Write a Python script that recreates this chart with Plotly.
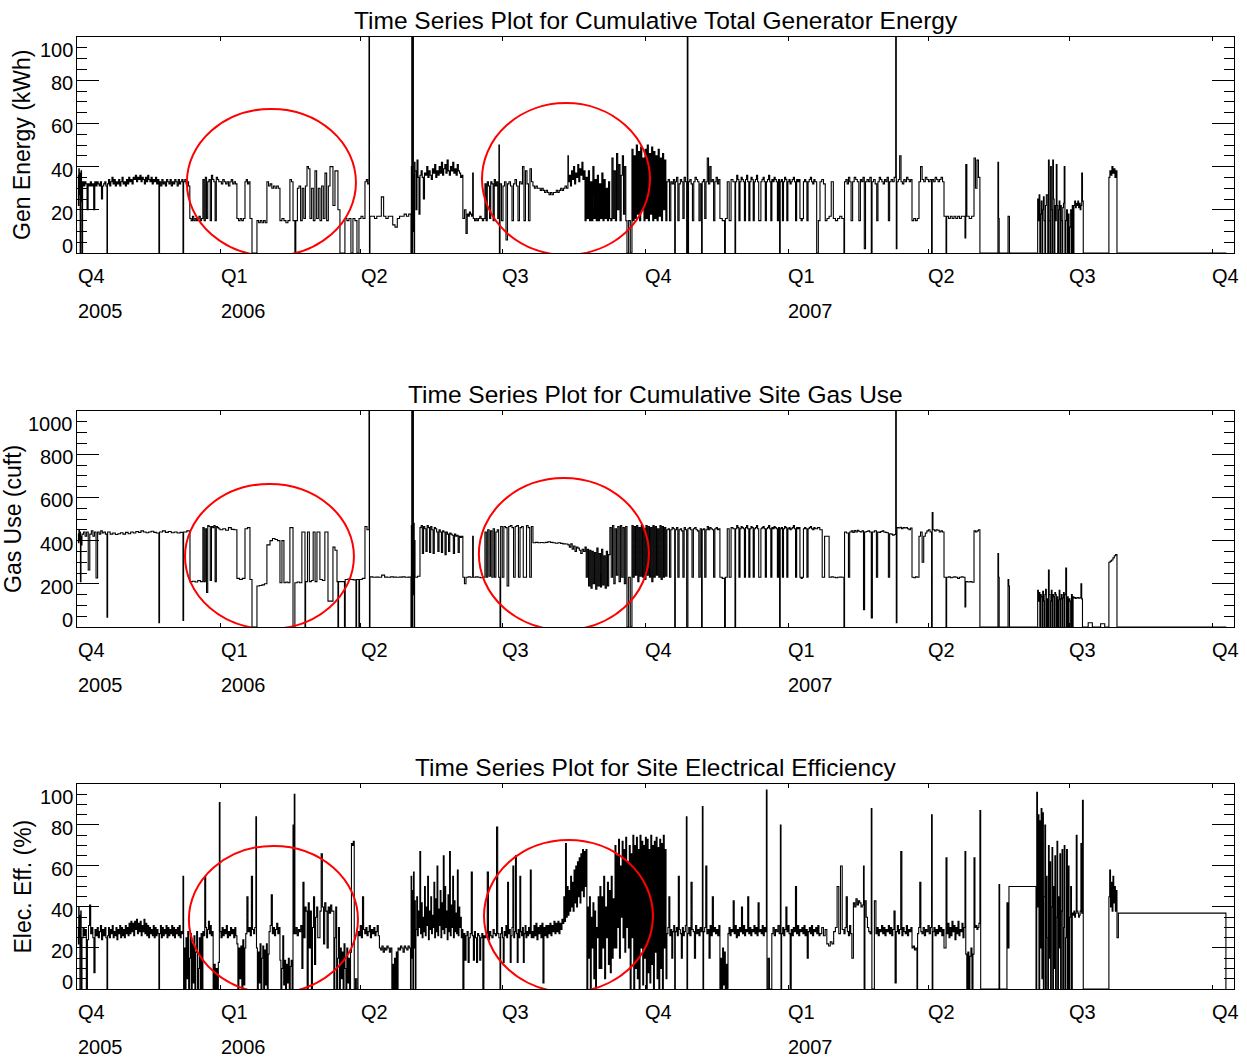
import numpy as np
import pandas as pd
import plotly.graph_objects as go

# ---------------- data (days since 2005-10-01, value) ----------------
START = "2005-10-01"

QUARTER_TICKS = ["2005-10-01", "2006-01-01", "2006-04-01", "2006-07-01", "2006-10-01",
                 "2007-01-01", "2007-04-01", "2007-07-01", "2007-10-01"]
QUARTER_LABELS = ["Q4", "Q1", "Q2", "Q3", "Q4", "Q1", "Q2", "Q3", "Q4"]
YEAR_LABELS = {"2005-10-01": "2005", "2006-01-01": "2006", "2007-01-01": "2007"}

TITLES = ["Time Series Plot for Cumulative Total Generator Energy",
          "Time Series Plot for Cumulative Site Gas Use",
          "Time Series Plot for Site Electrical Efficiency"]
Y_TITLES = ["Gen Energy (kWh)", "Gas Use (cuft)", "Elec. Eff. (%)"]
Y_TICKS = [[0, 20, 40, 60, 80, 100], [0, 200, 400, 600, 800, 1000], [0, 20, 40, 60, 80, 100]]
Y_RANGES = [[0, 100], [0, 1000], [0, 100]]
Y_MINOR = [5, 50, 5]

# runs: (start_day, end_day, values spread over the run)
GEN_RUNS = [
    (0.0, 2.6, [36, 22, 39, 27, 37, 0, 31, 38, 24]),
    (2.6, 3.0, [0]),
    (3.0, 18.7, [33, 31, 33, 32, 20, 32, 31, 33, 31, 32, 20, 33, 31, 33, 32, 31, 33, 25, 31, 32, 33, 31]),
    (18.7, 19.0, [0]),
    (19.0, 52.1, [32, 34, 31, 33, 35, 32, 34, 31, 33, 32, 34, 31, 33, 35, 32, 33, 31, 34, 32, 35, 33, 34, 32,
                  35, 34, 36, 33, 35, 34, 36, 33, 35, 34, 32, 35, 33, 36, 34, 33, 35, 32, 34, 33, 35, 32, 34]),
    (52.1, 52.5, [0]),
    (52.5, 67.6, [33, 31, 34, 32, 33, 31, 34, 33, 32, 34, 31, 33, 32, 34, 33, 31, 34, 32, 33, 34]),
    (67.6, 68.0, [0]),
    (68.0, 72.0, [33, 34, 32, 33, 31]),
    (72.0, 80.4, [16, 15, 17, 15, 16, 15, 16, 17, 15, 16]),
    (80.4, 91.4, [34, 15, 35, 16, 33, 34, 15, 36, 34, 33, 15, 35, 34, 33]),
    (91.4, 102.3, [33, 32, 34, 33, 32, 33, 31, 33, 34, 32, 33, 32]),
    (102.3, 107.5, [16, 15, 16, 15, 16]),
    (107.5, 110.7, [33, 34, 32, 33]),
    (110.7, 112.0, [16]),
    (112.0, 115.2, [0]),
    (115.2, 121.6, [15, 14, 15, 14, 15, 14]),
    (121.6, 130.0, [33, 31, 32, 30, 31, 30, 31, 30]),
    (130.0, 136.4, [15, 16, 15, 14, 15]),
    (136.4, 138.4, [34, 33]),
    (138.4, 139.6, [15]),
    (139.6, 140.2, [0]),
    (140.2, 147.4, [15, 30, 31, 15, 30, 16, 31]),
    (147.4, 149.3, [40, 39]),
    (149.3, 162.2, [16, 30, 15, 38, 16, 30, 15, 31, 16, 37, 15, 31]),
    (162.2, 164.1, [40]),
    (164.1, 165.4, [22]),
    (165.4, 167.3, [38]),
    (167.3, 168.6, [20]),
    (168.6, 171.8, [0]),
    (171.8, 184.7, [16, 15, 16, 0, 16, 15, 0, 16, 17, 16]),
    (184.7, 187.3, [33, 34, 32]),
    (187.3, 187.6, [120]),
    (187.6, 187.9, [0]),
    (187.9, 214.3, [17, 17, 16, 17, 17, 26, 17, 16, 17, 17, 13, 12, 16, 17, 17, 18, 17, 18]),
    (214.3, 216.9, [0, 40, 120, 0, 38, 120, 10, 36, 0, 42]),
    (216.9, 220.1, [38, 20, 43, 35, 18]),
    (220.1, 247.7, [36, 38, 35, 25, 37, 36, 40, 35, 38, 36, 34, 39, 37, 41, 35, 38, 36, 40, 37, 42, 36, 39,
                    41, 37, 43, 38, 36, 40, 38, 42, 37, 39, 36, 41, 38, 37, 35, 36]),
    (247.7, 249.7, [16, 20]),
    (249.7, 250.5, [9]),
    (250.5, 254.0, [18, 17, 19, 18, 17]),
    (254.0, 254.4, [37]),
    (254.4, 261.9, [16, 15, 16, 15, 16, 17, 16, 15, 16]),
    (261.9, 270.9, [32, 15, 33, 31, 16, 33, 32, 15, 34, 31, 33, 16]),
    (270.9, 271.2, [50]),
    (271.2, 271.6, [0]),
    (271.6, 292.8, [32, 15, 31, 33, 6, 32, 33, 31, 15, 32, 34, 31, 15, 33, 32, 40, 15, 38, 32, 15, 39, 33]),
    (292.8, 315.3, [31, 30, 31, 30, 30, 29, 30, 29, 28, 29, 28, 27, 28, 27, 28, 28, 29, 28, 29, 30, 29, 30,
                    31, 30]),
    (315.3, 315.6, [45]),
    (315.6, 326.3, [33, 36, 31, 38, 34, 40, 32, 37, 35, 41, 33, 39, 36, 42, 34, 38]),
    (326.3, 343.6, [15, 35, 16, 38, 15, 33, 15, 40, 16, 34, 15, 36, 15, 32, 16, 37, 15, 34, 16, 30, 15, 33,
                    16, 15]),
    (343.6, 353.3, [44, 16, 38, 15, 46, 20, 41, 15, 36, 45, 18, 40, 15]),
    (353.3, 356.5, [0, 15, 0]),
    (356.5, 379.0, [48, 15, 45, 16, 50, 18, 47, 15, 49, 20, 44, 15, 48, 16, 50, 15, 46, 18, 49, 15, 47, 16,
                    45, 15, 48, 17, 44, 15, 46, 20, 43, 15]),
    (379.0, 384.0, [33, 34, 15, 33, 32, 34]),
    (384.0, 384.4, [0]),
    (384.4, 391.7, [33, 35, 15, 32, 34, 33, 16, 35, 33]),
    (391.7, 392.1, [0]),
    (392.1, 392.5, [120]),
    (392.5, 392.9, [0]),
    (392.9, 401.3, [33, 34, 32, 15, 33, 35, 34, 33, 15, 32]),
    (401.3, 401.7, [0]),
    (401.7, 413.1, [33, 34, 16, 33, 44, 32, 40, 33, 34, 15, 33, 35, 32, 34]),
    (413.1, 416.1, [16, 15]),
    (416.1, 416.6, [0]),
    (416.6, 421.5, [16, 33, 15, 34]),
    (421.5, 422.8, [33]),
    (422.8, 423.2, [0]),
    (423.2, 451.5, [33, 36, 34, 15, 33, 35, 34, 33, 15, 34, 36, 33, 15, 33, 35, 34, 15, 33, 34, 36, 33, 15,
                    15, 33, 34, 35, 33, 15, 33, 34, 36, 33, 15, 34, 33, 35, 34, 33, 15, 34]),
    (451.5, 451.9, [0]),
    (451.9, 464.6, [33, 34, 15, 33, 35, 34, 15, 33, 34, 32, 33, 34, 35, 33, 15, 34, 33, 34]),
    (464.6, 474.3, [16, 15, 16, 33, 34, 33, 15, 33, 34, 35, 33, 32, 34]),
    (474.3, 477.5, [33, 0, 15]),
    (477.5, 482.0, [33, 34, 32, 15]),
    (482.0, 492.9, [16, 17, 33, 16, 15, 16, 17, 16]),
    (492.9, 493.3, [0]),
    (493.3, 497.5, [33, 34, 32, 35, 33]),
    (497.5, 498.5, [15]),
    (498.5, 502.5, [33, 35, 34, 33]),
    (502.5, 503.5, [15]),
    (503.5, 506.0, [34, 33, 35]),
    (506.0, 506.8, [2]),
    (506.8, 510.5, [33, 34, 33, 35]),
    (510.5, 511.0, [0]),
    (511.0, 514.0, [33, 34, 32]),
    (514.0, 514.8, [15]),
    (514.8, 521.5, [33, 35, 34, 33, 32, 34, 33, 35]),
    (521.5, 522.3, [15]),
    (522.3, 526.2, [33, 34, 33, 35]),
    (526.2, 526.6, [120]),
    (526.6, 527.0, [2]),
    (527.0, 536.7, [33, 34, 45, 33, 32, 34, 33, 35, 34, 33, 34]),
    (536.7, 541.2, [15, 16, 15, 16]),
    (541.2, 549.3, [33, 40, 34, 33, 35, 34, 33, 34]),
    (549.3, 549.7, [0]),
    (549.7, 557.3, [34, 33, 35, 34, 33, 34, 35, 33]),
    (557.3, 558.6, [17]),
    (558.6, 559.0, [0]),
    (559.0, 570.8, [17, 16, 17, 16, 17, 16, 17, 16, 17, 17]),
    (570.8, 571.3, [7]),
    (571.3, 572.0, [41]),
    (572.0, 576.6, [17, 16, 17]),
    (576.6, 580.4, [44, 30, 43, 35]),
    (580.4, 592.0, [0]),
    (592.0, 592.4, [42]),
    (592.4, 592.8, [16]),
    (592.8, 598.5, [0]),
    (598.5, 599.4, [17]),
    (599.4, 617.1, [0]),
    (617.1, 623.6, [0, 25, 15, 27, 0, 18, 24, 0, 20, 26, 15, 0, 22, 27]),
    (623.6, 630.0, [27, 0, 43, 15, 0, 40, 20, 0, 43, 25, 0, 22, 15, 41]),
    (630.0, 635.1, [22, 0, 20, 24, 0, 22, 15, 0, 21, 23, 40]),
    (635.1, 640.9, [0, 15, 20, 0, 18, 0, 12, 20, 0, 22, 0]),
    (640.9, 647.4, [22, 24, 21, 23, 22, 24, 21, 23, 20, 22, 37, 24, 0]),
    (647.4, 663.4, [0]),
    (663.4, 668.6, [35, 38, 36, 40, 37, 39, 35, 38]),
    (668.6, 739.0, [0]),
]

GAS_RUNS = [
    (0.0, 2.6, [430, 390, 450, 400, 440, 210, 420, 380]),
    (2.6, 18.7, [430, 440, 420, 440, 264, 430, 445, 420, 440, 227, 440, 430, 445, 435, 440, 430]),
    (18.7, 19.1, [45]),
    (19.1, 52.1, [440, 430, 435, 428, 432, 436, 430, 438, 432, 440, 435, 442, 438, 445, 440, 436, 440, 443,
                  438, 435]),
    (52.1, 52.5, [20]),
    (52.5, 67.6, [440, 445, 438, 442, 436, 440, 435, 438]),
    (67.6, 68.0, [30]),
    (68.0, 72.1, [440, 445]),
    (72.1, 80.4, [210, 212, 208, 215, 210]),
    (80.4, 91.4, [460, 210, 455, 160, 470, 465, 215, 465, 460, 470, 210, 465, 460, 455]),
    (91.4, 102.3, [450, 455, 448, 460, 452, 450]),
    (102.3, 107.5, [225, 220, 225]),
    (107.5, 110.7, [455, 460]),
    (110.7, 112.0, [220]),
    (112.0, 115.2, [0]),
    (115.2, 121.6, [190, 192, 195, 200]),
    (121.6, 123.6, [380]),
    (123.6, 130.0, [400, 410, 405, 400]),
    (130.0, 136.4, [205, 400, 205, 208, 205]),
    (136.4, 138.4, [460]),
    (138.4, 139.6, [0]),
    (139.6, 144.1, [205, 208, 205]),
    (144.1, 146.1, [440]),
    (146.1, 146.5, [0]),
    (146.5, 153.8, [210, 440, 210, 215, 440, 210]),
    (153.8, 155.7, [440]),
    (155.7, 158.9, [220, 215]),
    (158.9, 160.9, [440]),
    (160.9, 164.1, [120]),
    (164.1, 166.7, [370, 355]),
    (166.7, 167.3, [210]),
    (167.3, 167.7, [0]),
    (167.7, 171.5, [210]),
    (171.5, 172.0, [0]),
    (172.0, 178.9, [220, 222, 220, 218]),
    (178.9, 179.3, [0]),
    (179.3, 180.8, [220]),
    (180.8, 181.2, [0]),
    (181.2, 184.7, [220, 225]),
    (184.7, 187.3, [465, 450]),
    (187.3, 187.6, [1200]),
    (187.6, 187.9, [0]),
    (187.9, 214.3, [232, 230, 231, 230, 240, 231, 230, 232, 231, 230, 231, 232, 230, 231]),
    (214.3, 216.9, [0, 470, 1200, 0, 300, 1200, 150, 480, 0, 400]),
    (216.9, 220.1, [230, 235]),
    (220.1, 247.7, [460, 470, 340, 465, 455, 350, 470, 460, 345, 465, 450, 340, 460, 455, 440, 350, 450, 440,
                    345, 445, 440, 335, 440, 430, 350, 435, 430, 425, 340, 430, 420, 425, 345, 420, 415, 420]),
    (247.7, 249.7, [230, 200]),
    (249.7, 254.0, [230, 232, 230]),
    (254.0, 254.4, [420]),
    (254.4, 261.9, [230, 232, 230, 228, 230]),
    (261.9, 271.6, [440, 230, 450, 235, 445, 230, 455, 230, 440, 450, 230]),
    (271.6, 272.0, [0]),
    (272.0, 292.8, [465, 230, 465, 460, 190, 465, 470, 460, 230, 465, 470, 230, 460, 465, 230, 230, 470, 460,
                    230, 465]),
    (292.8, 315.3, [390, 392, 390, 391, 390, 392, 395, 392, 390, 388, 390, 387, 385, 384]),
    (315.3, 326.3, [380, 370, 385, 360, 375, 350, 370, 365, 355, 340, 360, 350]),
    (326.3, 342.3, [370, 230, 360, 190, 355, 180, 350, 200, 345, 175, 365, 190, 340, 185, 360, 195, 330, 180,
                    350, 190, 335]),
    (342.3, 353.3, [460, 230, 470, 200, 455, 240, 465, 210, 470, 230, 460, 200, 465]),
    (353.3, 356.5, [0, 230, 0]),
    (356.5, 379.0, [470, 230, 465, 240, 470, 210, 460, 235, 470, 230, 455, 220, 470, 240, 465, 230, 460, 210,
                    470, 230, 465, 240, 455, 230, 470, 220, 465, 230, 460, 235]),
    (379.0, 384.0, [450, 455, 230, 450, 460, 455]),
    (384.0, 384.4, [0]),
    (384.4, 391.7, [450, 460, 230, 450, 455, 445, 230, 460, 450]),
    (391.7, 392.5, [0]),
    (392.5, 401.3, [455, 460, 450, 230, 455, 460, 450, 445, 230, 455]),
    (401.3, 401.7, [0]),
    (401.7, 413.1, [450, 455, 230, 450, 465, 450, 460, 455, 450, 230, 455, 460, 450, 455]),
    (413.1, 416.1, [230, 225]),
    (416.1, 416.6, [0]),
    (416.6, 421.5, [230, 455, 230, 460]),
    (421.5, 422.8, [455]),
    (422.8, 423.2, [0]),
    (423.2, 451.5, [455, 470, 460, 230, 455, 465, 460, 455, 230, 460, 470, 455, 230, 455, 465, 460, 230, 455,
                    460, 470, 455, 230, 230, 455, 460, 465, 455, 230, 455, 460, 470, 455, 230, 460, 455, 465,
                    460, 455, 230, 460]),
    (451.5, 451.9, [0]),
    (451.9, 464.6, [455, 460, 230, 455, 465, 460, 230, 455, 460, 450, 455, 460, 470, 455, 230, 460, 455, 460]),
    (464.6, 474.3, [230, 225, 230, 455, 460, 455, 230, 455, 460, 465, 455, 450, 460]),
    (474.3, 482.0, [455, 460, 450, 230, 420]),
    (482.0, 492.9, [420, 230, 232, 230, 228, 230, 231, 230]),
    (492.9, 493.3, [0]),
    (493.3, 495.8, [440, 435]),
    (495.8, 496.6, [230]),
    (496.6, 505.5, [440, 445, 438, 446, 440, 448, 442, 440, 445]),
    (505.5, 506.2, [80]),
    (506.2, 510.5, [440, 442, 445, 440]),
    (510.5, 511.2, [42]),
    (511.2, 513.8, [440, 445]),
    (513.8, 514.6, [230]),
    (514.6, 521.5, [440, 438, 442, 445, 440, 438, 436]),
    (521.5, 522.3, [230]),
    (522.3, 526.2, [432, 430, 425, 428]),
    (526.2, 526.6, [1200]),
    (526.6, 527.0, [20]),
    (527.0, 536.7, [460, 458, 462, 455, 460, 458, 460, 455, 450, 458]),
    (536.7, 541.2, [230, 228, 232, 230]),
    (541.2, 549.3, [420, 440, 300, 420, 435, 445, 450, 440]),
    (549.3, 549.7, [0]),
    (549.7, 550.2, [530]),
    (550.2, 557.3, [450, 445, 450, 448, 440, 445, 440]),
    (557.3, 558.6, [230]),
    (558.6, 559.0, [0]),
    (559.0, 570.8, [230, 232, 228, 230, 232, 230, 225, 230, 232, 230]),
    (570.8, 571.3, [93]),
    (571.3, 576.6, [210, 208, 210, 207]),
    (576.6, 580.4, [445, 440, 445, 450]),
    (580.4, 592.0, [0]),
    (592.0, 592.4, [340]),
    (592.4, 592.8, [230]),
    (592.8, 598.5, [0]),
    (598.5, 599.4, [220, 190]),
    (599.4, 617.1, [0]),
    (617.1, 623.6, [0, 170, 120, 160, 0, 150, 140, 0, 165, 120, 0, 150, 175, 0]),
    (623.6, 630.0, [130, 0, 264, 150, 0, 120, 170, 0, 150, 140, 0, 160, 150, 0]),
    (630.0, 635.1, [140, 0, 125, 170, 0, 130, 150, 0, 135, 160, 0]),
    (635.1, 640.9, [150, 273, 0, 140, 0, 130, 120, 0, 150, 0, 140]),
    (640.9, 647.4, [134, 136, 132, 135, 134, 136, 133, 135, 134, 200, 130, 0, 0]),
    (647.4, 663.4, [0, 20, 0, 0, 15, 0]),
    (663.4, 668.6, [300, 305, 310, 320, 330, 335]),
    (668.6, 739.0, [0]),
]

EFF_RUNS = [
    (0.0, 2.6, [30, 22, 40, 25, 36, 0, 28, 38, 20, 0]),
    (2.6, 18.7, [25, 30, 26, 29, 0, 24, 31, 41, 27, 30, 25, 8, 29, 26, 30, 25, 28, 31, 24, 29, 26, 30, 25]),
    (18.7, 19.1, [0]),
    (19.1, 52.1, [26, 30, 25, 29, 27, 31, 25, 28, 26, 30, 24, 29, 27, 31, 25, 30, 26, 29, 25, 31, 27, 30, 26,
                  32, 27, 33, 28, 32, 26, 33, 29, 34, 27, 32, 28, 33, 26, 31, 28, 34, 27, 32, 26, 31, 25, 30,
                  27, 29, 26, 31, 25, 30, 26, 29, 27]),
    (52.1, 52.5, [0]),
    (52.5, 67.6, [27, 31, 25, 30, 26, 29, 27, 31, 25, 30, 26, 29, 27, 31, 26, 30, 25, 29, 27, 30, 26, 31, 25,
                  28, 27]),
    (67.6, 68.0, [55]),
    (68.0, 68.4, [0]),
    (68.4, 80.4, [20, 0, 25, 5, 28, 0, 15, 27, 0, 22, 3, 26, 0, 18, 28, 0, 10, 25, 0, 27, 0]),
    (80.4, 87.0, [28, 26, 55, 30, 25, 29, 33, 27, 31, 26, 28]),
    (87.0, 91.0, [0, 12, 0, 10, 0, 13]),
    (91.0, 91.4, [91]),
    (91.4, 102.3, [28, 25, 30, 26, 29, 27, 31, 25, 28, 26, 30, 27, 29, 25, 30, 26]),
    (102.3, 108.0, [22, 0, 20, 5, 21, 0, 24, 2, 20]),
    (108.0, 114.5, [27, 45, 28, 30, 26, 55, 29, 27, 30]),
    (114.5, 114.9, [84]),
    (114.9, 123.0, [20, 0, 18, 3, 22, 0, 15, 21, 0, 19, 2, 22, 0, 17]),
    (123.0, 130.0, [28, 31, 46, 27, 30, 26, 29, 32, 27, 30]),
    (130.0, 138.4, [14, 0, 10, 26, 2, 14, 0, 12, 3, 15, 0, 11, 14, 0]),
    (138.4, 138.8, [80]),
    (138.8, 139.2, [27]),
    (139.2, 139.6, [95]),
    (139.6, 144.1, [27, 30, 26, 29, 28, 31]),
    (144.1, 155.0, [10, 52, 25, 40, 38, 0, 42, 20, 38, 0, 30, 45, 12, 35, 40, 25]),
    (155.0, 164.1, [25, 38, 66, 40, 22, 42, 38, 20, 40, 37, 41, 38]),
    (164.1, 176.0, [38, 0, 25, 40, 0, 15, 30, 0, 20, 5, 18, 0, 22, 10, 0, 20, 3, 15, 0, 18]),
    (176.0, 177.8, [71, 70, 72]),
    (177.8, 180.2, [0, 5, 0]),
    (180.2, 194.0, [28, 26, 31, 25, 45, 29, 27, 30, 26, 28, 31, 25, 29, 27, 30, 26, 28, 31, 26]),
    (194.0, 202.0, [20, 19, 21, 18, 20, 19, 21, 20, 18, 20]),
    (202.0, 206.0, [0, 12, 0, 15, 0, 18, 0]),
    (206.0, 214.0, [20, 19, 21, 20, 18, 21, 20, 19, 21, 20]),
    (214.0, 217.5, [0, 55, 15, 48, 0, 57, 20, 43, 0]),
    (217.5, 247.7, [29, 45, 26, 38, 30, 67, 27, 42, 25, 35, 28, 50, 26, 40, 31, 55, 24, 38, 29, 45, 27, 36,
                    30, 52, 25, 44, 28, 60, 26, 39, 31, 48, 25, 42, 29, 65, 27, 50, 30, 38, 24, 46, 28, 67,
                    26, 41, 30, 55, 25, 43, 28, 37, 27, 58, 26, 40, 30, 35, 25, 29]),
    (247.7, 261.9, [0, 27, 14, 26, 28, 13, 25, 27, 57, 26, 14, 28, 25, 13, 27, 26, 14, 25, 27, 0, 26]),
    (261.9, 271.6, [25, 27, 57, 24, 28, 26, 25, 29, 27, 26, 79, 27, 25]),
    (271.6, 272.0, [0]),
    (272.0, 292.8, [27, 30, 25, 13, 28, 26, 31, 25, 52, 27, 29, 13, 26, 30, 60, 25, 28, 65, 27, 13, 29, 25,
                    55, 28, 26, 30, 13, 27, 31, 25, 28, 26, 30, 27, 58, 25, 28]),
    (292.8, 312.1, [25, 31, 26, 32, 24, 30, 27, 31, 25, 32, 3, 30, 26, 31, 25, 31, 27, 32, 26, 31, 28, 33,
                    27, 32, 28, 33, 27, 32, 29, 34]),
    (312.1, 327.5, [32, 45, 33, 71, 35, 50, 36, 48, 38, 55, 40, 52, 38, 58, 42, 60, 40, 62, 45, 64, 42, 66,
                    48, 68, 45, 67, 50, 68]),
    (327.5, 335.9, [0, 40, 15, 45, 0, 35, 20, 42, 5, 38, 0, 30, 25, 45, 10]),
    (335.9, 345.6, [50, 10, 45, 20, 55, 5, 40, 25, 52, 12, 48, 8, 55, 15, 44, 20]),
    (345.6, 357.1, [70, 20, 65, 30, 73, 15, 60, 35, 72, 25, 68, 18, 74, 30, 62, 20, 70, 0, 66, 25]),
    (357.1, 379.0, [75, 0, 70, 10, 74, 5, 68, 0, 75, 20, 72, 2, 70, 15, 74, 0, 73, 8, 68, 3, 75, 12, 70, 0,
                    72, 18, 74, 5, 69, 0, 73, 10, 71, 0, 75, 20, 68, 5]),
    (379.0, 384.0, [27, 30, 45, 26, 29, 15, 28, 31]),
    (384.0, 384.4, [0]),
    (384.4, 391.5, [28, 30, 26, 55, 29, 27, 15, 30, 26, 28, 31]),
    (391.5, 391.9, [84]),
    (391.9, 392.3, [0]),
    (392.3, 401.8, [27, 30, 26, 52, 29, 28, 15, 31, 27, 29, 26, 30, 28]),
    (401.8, 402.2, [89]),
    (402.2, 402.6, [0]),
    (402.6, 413.1, [28, 30, 60, 27, 29, 15, 31, 26, 45, 28, 30, 27, 29, 26, 31]),
    (413.1, 418.3, [0, 15, 0, 20, 2, 18, 0, 12, 0]),
    (418.3, 443.0, [27, 30, 26, 29, 28, 43, 27, 31, 25, 29, 26, 30, 28, 40, 27, 31, 26, 29, 28, 45, 27, 30,
                    26, 29, 28, 31, 27, 30, 26, 42, 28, 29, 27, 31, 26, 30, 28]),
    (443.0, 443.4, [97]),
    (443.4, 446.5, [0, 15, 0, 0]),
    (446.5, 452.0, [27, 30, 26, 29, 28, 31, 27]),
    (452.0, 452.4, [80]),
    (452.4, 452.8, [0]),
    (452.8, 477.5, [27, 30, 26, 29, 40, 28, 31, 27, 0, 29, 26, 30, 28, 50, 27, 31, 26, 29, 28, 30, 27, 31,
                    26, 29, 15, 28, 30, 27, 31, 26, 29, 28, 30, 27, 31, 26]),
    (477.5, 492.9, [27, 30, 26, 29, 22, 21, 23, 22, 28, 30, 50, 27, 60, 29]),
    (492.9, 498.0, [27, 30, 45, 28, 26, 31, 27]),
    (498.0, 499.0, [15]),
    (499.0, 505.5, [42, 40, 44, 41, 43, 42, 40, 41]),
    (505.5, 505.9, [60]),
    (505.9, 506.4, [0]),
    (506.4, 510.5, [43, 35, 30, 28, 27]),
    (510.5, 510.9, [88]),
    (510.9, 512.5, [0]),
    (512.5, 513.5, [43]),
    (513.5, 536.7, [27, 30, 26, 29, 28, 31, 27, 30, 26, 29, 28, 31, 27, 30, 26, 29, 38, 3, 28, 31, 27, 29,
                    67, 26, 30, 28, 27, 31, 26, 29, 28, 30]),
    (536.7, 539.9, [20, 21, 19, 20]),
    (539.9, 540.3, [0]),
    (540.3, 543.1, [27, 30, 52, 28]),
    (543.1, 549.3, [27, 30, 26, 29, 28, 31, 27, 30]),
    (549.3, 549.7, [85]),
    (549.7, 550.1, [0]),
    (550.1, 557.3, [28, 30, 26, 29, 27, 31, 28, 30, 26, 29]),
    (557.3, 558.6, [20]),
    (558.6, 559.2, [64]),
    (559.2, 570.8, [27, 32, 25, 30, 26, 33, 28, 31, 24, 30, 27, 33, 26, 29, 28, 32, 25, 30]),
    (570.8, 571.3, [67]),
    (571.3, 576.6, [17, 0, 18, 0, 16, 20, 0, 17]),
    (576.6, 577.2, [64]),
    (577.2, 580.4, [30, 31, 29, 30, 32]),
    (580.4, 580.9, [87]),
    (580.9, 592.7, [0]),
    (592.7, 593.1, [51]),
    (593.1, 597.8, [0]),
    (597.8, 599.1, [42, 20]),
    (599.1, 616.5, [50]),
    (616.5, 623.6, [0, 96, 40, 85, 0, 82, 20, 88, 5, 86, 0, 45, 80, 0, 55]),
    (623.6, 630.0, [25, 0, 70, 15, 62, 0, 40, 69, 0, 50, 10, 65, 0, 35]),
    (630.0, 635.1, [72, 0, 45, 20, 66, 0, 38, 68, 0, 30, 70]),
    (635.1, 640.9, [0, 25, 68, 0, 60, 0, 35, 50, 0, 37, 36]),
    (640.9, 647.4, [38, 35, 37, 75, 38, 37, 35, 36, 38, 71, 37, 92, 0]),
    (647.4, 663.4, [0]),
    (663.4, 668.6, [45, 58, 40, 52, 38, 55, 42, 50, 38, 48]),
    (668.6, 669.5, [25]),
    (669.5, 738.7, [37]),
    (738.7, 739.0, [0]),
]

# red circles: (start_day, end_day, low value, high value) per panel
ELLIPSES = [
    [(70.1, 178.9, -1.4, 66.7), (260.0, 368.1, -0.9, 69.4)],
    [(68.9, 177.6, -9, 662), (258.0, 367.4, -14, 690)],
    [(71.4, 180.2, -2, 69.8), (261.3, 370.0, -1.5, 72.7)],
]

X_RANGE_DAYS = [-0.6, 743.9]

# ---------------- helpers ----------------
T0 = pd.Timestamp(START)


def day_to_date(d):
    return (T0 + pd.to_timedelta(d, unit="D")).strftime("%Y-%m-%d %H:%M:%S")


def expand(runs):
    xs, ys = [], []
    for a, b, vals in runs:
        n = len(vals)
        for i, v in enumerate(vals):
            xs.append(a + (b - a) * i / n)
            ys.append(v)
    xs.append(runs[-1][1])
    ys.append(runs[-1][2][-1])
    dates = T0 + pd.to_timedelta(np.array(xs), unit="D")
    return dates, ys


FONT = "Liberation Sans, Arial, Helvetica, sans-serif"

DOMAINS = [[0.77311, 1.0], [0.38025, 0.60714], [0.0, 0.21534]]
YTITLE_XSHIFT = [-55, -64, -54]

fig = go.Figure()
annotations = []
shapes = []

for k, runs in enumerate([GEN_RUNS, GAS_RUNS, EFF_RUNS]):
    sfx = "" if k == 0 else str(k + 1)
    xd, yv = expand(runs)
    fig.add_trace(go.Scatter(
        x=xd, y=yv, mode="lines",
        line=dict(color="black", width=1.1, shape="hv", simplify=False),
        xaxis="x" + sfx, yaxis="y" + sfx, showlegend=False, hoverinfo="skip"))

    fig.layout["xaxis" + sfx] = dict(
        type="date", domain=[0, 1], anchor="y" + sfx,
        range=[day_to_date(X_RANGE_DAYS[0]), day_to_date(X_RANGE_DAYS[1])],
        tickmode="array", tickvals=QUARTER_TICKS, ticks="inside", ticklen=4,
        tickcolor="black", tickwidth=1, showticklabels=False,
        showline=True, linecolor="black", linewidth=1, mirror="ticks",
        showgrid=False, zeroline=False)
    fig.layout["yaxis" + sfx] = dict(
        domain=DOMAINS[k], anchor="x" + sfx, range=Y_RANGES[k],
        tickmode="array", tickvals=Y_TICKS[k], ticks="inside", ticklen=22,
        tickcolor="black", tickwidth=1, showticklabels=False,
        minor=dict(ticks="inside", ticklen=10, tick0=0, dtick=Y_MINOR[k],
                   tickcolor="black", tickwidth=1, showgrid=False),
        showline=True, linecolor="black", linewidth=1, mirror="ticks",
        showgrid=False, zeroline=False)

    # y tick labels
    ticks = Y_TICKS[k]
    for j, t in enumerate(ticks):
        if j == 0:
            ys = 7
        elif j == len(ticks) - 1:
            ys = -13
        else:
            ys = -3
        annotations.append(dict(
            text=str(t), xref="paper", x=0, xanchor="right", xshift=-2,
            yref="y" + sfx, y=t, yanchor="middle", yshift=ys,
            showarrow=False, font=dict(family=FONT, size=20, color="black")))

    # x tick labels (quarters + years)
    for q, lab in zip(QUARTER_TICKS, QUARTER_LABELS):
        annotations.append(dict(
            text=lab, xref="x" + sfx, x=q, xanchor="left", xshift=-2,
            yref="y" + sfx + " domain", y=0, yanchor="middle", yshift=-23,
            showarrow=False, font=dict(family=FONT, size=20, color="black")))
        if q in YEAR_LABELS:
            annotations.append(dict(
                text=YEAR_LABELS[q], xref="x" + sfx, x=q, xanchor="left", xshift=-2,
                yref="y" + sfx + " domain", y=0, yanchor="middle", yshift=-58,
                showarrow=False, font=dict(family=FONT, size=20, color="black")))

    # panel title
    annotations.append(dict(
        text=TITLES[k], xref="paper", x=0.5, xanchor="center",
        yref="y" + sfx + " domain", y=1, yanchor="bottom", yshift=1,
        showarrow=False, font=dict(family=FONT, size=24.5, color="black")))

    # y axis title
    annotations.append(dict(
        text=Y_TITLES[k], xref="paper", x=0, xanchor="center", xshift=YTITLE_XSHIFT[k],
        yref="y" + sfx + " domain", y=0.5, yanchor="middle", textangle=-90,
        showarrow=False, font=dict(family=FONT, size=23, color="black")))

    for (d0, d1, v0, v1) in ELLIPSES[k]:
        shapes.append(dict(
            type="circle", xref="x" + sfx, yref="y" + sfx,
            x0=day_to_date(d0), x1=day_to_date(d1), y0=v0, y1=v1,
            line=dict(color="#ff0000", width=2), layer="above"))

fig.update_layout(
    width=1247, height=1061,
    margin=dict(l=77, r=13, t=37, b=72),
    paper_bgcolor="white", plot_bgcolor="white",
    showlegend=False,
    annotations=annotations, shapes=shapes,
)

fig.write_html("out.html", config={"displayModeBar": False},
               post_script="document.body.style.margin='0px';")
